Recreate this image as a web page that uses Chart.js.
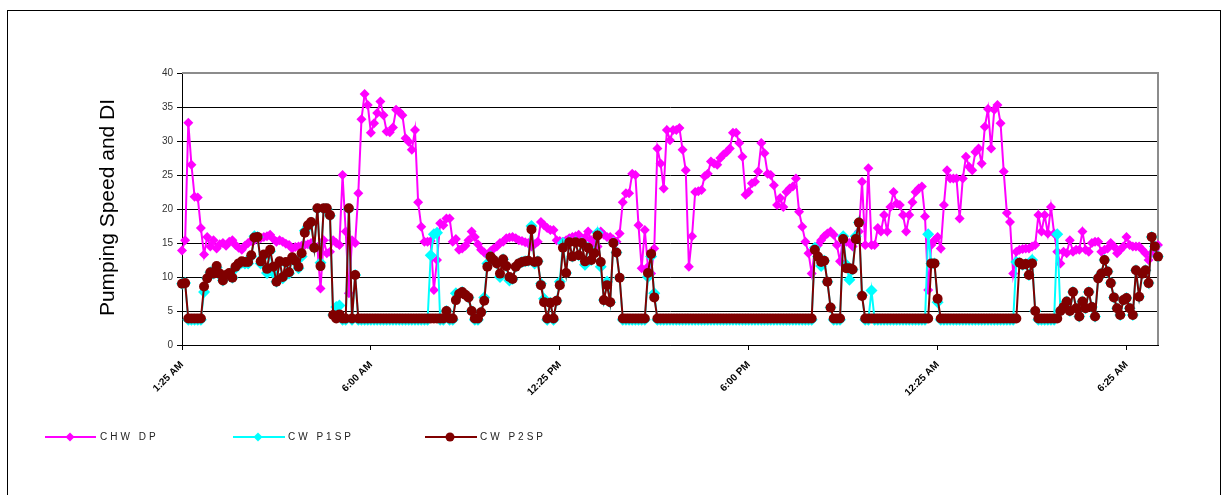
<!DOCTYPE html>
<html>
<head>
<meta charset="utf-8">
<script src="https://cdn.jsdelivr.net/npm/chart.js@4.4.1/dist/chart.umd.min.js"></script>
<style>
html,body{margin:0;padding:0;background:#fff;}
#wrap{width:1222px;height:495px;position:relative;overflow:hidden;}
canvas{display:block;}
</style>
</head>
<body>
<div id="wrap"><canvas id="c" width="1222" height="495"></canvas></div>
<script>
// ---- tick labels (x axis, one every 60 samples) ----
const timeLabels = ['1:25 AM', '6:00 AM', '12:25 PM', '6:00 PM', '12:25 AM', '6:25 AM'];
const seriesNames = ['CHW DP', 'CW P1SP', 'CW P2SP'];
const yAxisTitle = 'Pumping Speed and DI';

// ---- series values (311 samples each) ----
const chwDP = [
13.9, 15.4, 32.7, 26.5, 21.8, 21.7, 17.2, 13.3, 15.9, 14.5,
15.4, 14.2, 14.8, 15.0, 14.6, 15.2, 15.4, 14.7, 14.3, 14.0,
14.6, 15.0, 15.3, 15.4, 15.6, 15.7, 15.9, 16.0, 16.2, 15.6,
15.2, 15.4, 15.2, 14.9, 14.7, 14.2, 14.4, 14.5, 14.6, 14.7,
14.8, 15.0, 14.5, 14.4, 8.3, 15.4, 13.5, 13.7, 15.4, 15.0,
14.7, 25.0, 16.7, 7.6, 15.4, 15.0, 22.3, 33.2, 36.9, 35.3,
31.2, 32.6, 34.1, 35.8, 33.8, 31.4, 31.3, 32.0, 34.6, 34.3,
33.8, 30.4, 29.9, 28.7, 31.6, 21.0, 17.4, 15.2, 15.2, 15.3,
8.1, 12.5, 17.9, 17.6, 18.6, 18.6, 15.2, 15.6, 14.0, 14.2,
14.6, 15.4, 16.7, 15.9, 14.8, 14.0, 13.6, 13.2, 13.8, 14.2,
14.5, 15.0, 15.2, 15.7, 15.8, 15.9, 15.7, 15.4, 15.3, 15.1,
15.0, 14.5, 14.8, 15.2, 18.1, 17.6, 17.2, 16.9, 16.9, 15.4,
15.3, 15.2, 15.4, 15.7, 15.9, 16.0, 16.2, 15.2, 15.8, 16.7,
15.4, 14.9, 14.5, 16.7, 16.2, 15.9, 15.9, 15.5, 15.2, 16.4,
21.0, 22.3, 22.3, 25.2, 25.0, 17.6, 11.3, 16.9, 11.5, 10.5,
14.2, 28.9, 26.7, 23.0, 31.6, 30.1, 31.6, 31.6, 31.9, 28.7,
25.7, 11.5, 16.0, 22.5, 22.6, 22.8, 24.8, 25.2, 27.0, 26.7,
26.5, 27.5, 28.0, 28.4, 28.9, 31.2, 31.2, 29.7, 27.7, 22.1,
22.5, 23.8, 24.0, 25.5, 29.7, 28.2, 25.2, 25.0, 23.5, 20.6,
21.6, 20.3, 22.5, 23.0, 23.3, 24.5, 19.6, 17.4, 15.2, 13.5,
10.5, 14.0, 14.7, 15.4, 16.0, 16.4, 16.7, 16.2, 14.7, 12.3,
15.9, 15.2, 15.0, 14.5, 15.9, 16.7, 24.0, 14.7, 26.0, 14.7,
14.7, 17.2, 16.7, 19.1, 16.7, 20.3, 22.5, 20.8, 20.6, 19.1,
16.7, 19.1, 21.0, 22.5, 23.0, 23.3, 18.9, 8.1, 14.7, 15.4,
15.9, 14.2, 20.6, 25.7, 24.5, 24.5, 24.5, 18.6, 24.5, 27.7,
26.2, 25.7, 28.4, 28.9, 26.7, 32.1, 34.7, 28.9, 34.6, 35.3,
32.6, 25.5, 19.4, 18.1, 10.5, 13.7, 14.0, 14.1, 14.2, 14.2,
14.5, 14.7, 19.1, 16.7, 19.1, 16.4, 20.3, 16.4, 13.7, 12.0,
13.7, 13.5, 15.4, 13.7, 14.0, 14.0, 16.7, 14.0, 13.7, 15.0,
15.2, 15.2, 13.7, 14.0, 14.2, 15.0, 14.5, 13.5, 14.0, 14.5,
15.9, 14.7, 14.5, 14.5, 14.5, 14.0, 13.5, 12.5, 13.5, 14.0, 14.7
];

const cwP1SP = [
9.0, 9.1, 3.7, 3.7, 3.7, 3.7, 3.7, 7.8, 9.8, 10.7,
10.5, 11.4, 10.3, 9.5, 10.1, 10.4, 9.9, 11.3, 11.8, 12.1,
12.0, 12.0, 13.0, 16.0, 15.9, 12.0, 13.0, 10.6, 13.8, 10.6,
9.3, 12.1, 9.8, 12.0, 10.5, 12.7, 12.2, 11.3, 13.0, 16.8,
17.4, 18.0, 14.3, 20.0, 12.1, 20.0, 20.0, 19.0, 4.4, 5.6,
5.8, 3.7, 3.7, 20.0, 3.7, 10.3, 3.7, 3.7, 3.7, 3.7,
3.7, 3.7, 3.7, 3.7, 3.7, 3.7, 3.7, 3.7, 3.7, 3.7,
3.7, 3.7, 3.7, 3.7, 3.7, 3.7, 3.7, 3.7, 3.7, 13.2,
16.3, 16.5, 3.7, 3.7, 5.0, 3.7, 3.7, 7.6, 7.5, 7.8,
7.4, 7.0, 5.0, 3.7, 3.7, 4.8, 7.0, 12.0, 13.0, 12.5,
12.0, 10.0, 12.6, 11.6, 9.5, 9.7, 11.5, 12.0, 12.2, 12.3,
12.4, 17.5, 12.0, 12.3, 9.0, 6.8, 3.7, 6.2, 3.7, 6.5,
9.3, 15.0, 10.6, 15.1, 13.0, 15.1, 13.2, 15.0, 11.8, 14.3,
12.5, 13.5, 16.5, 11.5, 6.6, 9.3, 6.3, 15.0, 13.6, 9.9,
3.7, 3.7, 3.7, 3.7, 3.7, 3.7, 3.7, 3.7, 10.0, 13.0,
7.6, 3.7, 3.7, 3.7, 3.7, 3.7, 3.7, 3.7, 3.7, 3.7,
3.7, 3.7, 3.7, 3.7, 3.7, 3.7, 3.7, 3.7, 3.7, 3.7,
3.7, 3.7, 3.7, 3.7, 3.7, 3.7, 3.7, 3.7, 3.7, 3.7,
3.7, 3.7, 3.7, 3.7, 3.7, 3.7, 3.7, 3.7, 3.7, 3.7,
3.7, 3.7, 3.7, 3.7, 3.7, 3.7, 3.7, 3.7, 3.7, 3.7,
3.7, 14.3, 13.0, 11.6, 12.4, 9.3, 5.5, 3.7, 3.7, 3.7,
16.0, 11.8, 9.6, 11.1, 16.0, 18.0, 7.3, 3.7, 3.7, 8.0,
3.7, 3.7, 3.7, 3.7, 3.7, 3.7, 3.7, 3.7, 3.7, 3.7,
3.7, 3.7, 3.7, 3.7, 3.7, 3.7, 3.7, 16.3, 12.0, 12.0,
6.3, 3.7, 3.7, 3.7, 3.7, 3.7, 3.7, 3.7, 3.7, 3.7,
3.7, 3.7, 3.7, 3.7, 3.7, 3.7, 3.7, 3.7, 3.7, 3.7,
3.7, 3.7, 3.7, 3.7, 3.7, 12.2, 12.1, 11.8, 11.9, 10.3,
12.5, 5.0, 3.7, 3.7, 3.7, 3.7, 3.7, 3.7, 16.3, 5.0,
5.6, 6.4, 5.0, 7.8, 5.4, 4.2, 6.4, 5.4, 7.8, 5.6,
4.2, 9.8, 10.5, 12.5, 10.8, 9.1, 7.0, 5.4, 4.4, 6.6,
6.9, 5.4, 4.4, 11.0, 7.1, 10.5, 11.0, 9.1, 15.9, 14.5, 13.0
];

const cwP2SP = [
9.0, 9.1, 3.9, 3.9, 3.9, 3.9, 3.9, 8.6, 9.8, 10.7,
10.5, 11.6, 10.5, 9.5, 10.3, 10.6, 9.9, 11.5, 12.0, 12.3,
12.2, 12.2, 13.2, 15.8, 15.9, 12.3, 13.3, 11.2, 14.0, 11.5,
9.3, 12.3, 10.0, 12.2, 10.7, 12.9, 12.4, 11.5, 13.5, 16.5,
17.6, 18.1, 14.3, 20.1, 11.6, 20.1, 20.1, 19.1, 4.4, 3.9,
4.5, 3.9, 3.9, 20.1, 3.9, 10.3, 3.9, 3.9, 3.9, 3.9,
3.9, 3.9, 3.9, 3.9, 3.9, 3.9, 3.9, 3.9, 3.9, 3.9,
3.9, 3.9, 3.9, 3.9, 3.9, 3.9, 3.9, 3.9, 3.9, 3.9,
3.9, 3.9, 3.9, 3.9, 5.0, 3.9, 3.9, 6.6, 7.5, 7.8,
7.4, 7.0, 5.0, 3.9, 3.9, 4.8, 6.5, 11.5, 13.0, 12.5,
12.0, 10.5, 12.6, 11.6, 10.0, 9.7, 11.5, 12.0, 12.2, 12.3,
12.4, 17.0, 12.2, 12.3, 8.8, 6.3, 3.9, 6.2, 3.9, 6.5,
8.8, 14.3, 10.6, 15.1, 13.0, 15.1, 13.2, 15.0, 12.3, 14.3,
12.5, 13.5, 16.1, 12.2, 6.6, 8.8, 6.3, 15.0, 13.6, 9.9,
3.9, 3.9, 3.9, 3.9, 3.9, 3.9, 3.9, 3.9, 10.6, 13.4,
7.0, 3.9, 3.9, 3.9, 3.9, 3.9, 3.9, 3.9, 3.9, 3.9,
3.9, 3.9, 3.9, 3.9, 3.9, 3.9, 3.9, 3.9, 3.9, 3.9,
3.9, 3.9, 3.9, 3.9, 3.9, 3.9, 3.9, 3.9, 3.9, 3.9,
3.9, 3.9, 3.9, 3.9, 3.9, 3.9, 3.9, 3.9, 3.9, 3.9,
3.9, 3.9, 3.9, 3.9, 3.9, 3.9, 3.9, 3.9, 3.9, 3.9,
3.9, 14.0, 13.0, 12.2, 12.4, 9.3, 5.5, 3.9, 3.9, 3.9,
15.6, 11.3, 11.3, 11.1, 15.6, 18.0, 7.2, 3.9, 3.9, 3.9,
3.9, 3.9, 3.9, 3.9, 3.9, 3.9, 3.9, 3.9, 3.9, 3.9,
3.9, 3.9, 3.9, 3.9, 3.9, 3.9, 3.9, 3.9, 12.0, 12.0,
6.8, 3.9, 3.9, 3.9, 3.9, 3.9, 3.9, 3.9, 3.9, 3.9,
3.9, 3.9, 3.9, 3.9, 3.9, 3.9, 3.9, 3.9, 3.9, 3.9,
3.9, 3.9, 3.9, 3.9, 3.9, 3.9, 12.1, 11.8, 11.9, 10.3,
12.0, 5.0, 3.9, 3.9, 3.9, 3.9, 3.9, 3.9, 3.9, 5.0,
5.6, 6.4, 5.0, 7.8, 5.4, 4.2, 6.4, 5.4, 7.8, 5.6,
4.2, 9.8, 10.5, 12.5, 10.8, 9.1, 7.0, 5.4, 4.4, 6.6,
6.9, 5.4, 4.4, 11.0, 7.1, 10.5, 11.0, 9.1, 15.9, 14.5, 13.0
];

const toXY = arr => arr.map((v, i) => ({ x: i, y: v }));
const lastIndex = chwDP.length - 1;

const decor = {
  id: 'decor',
  beforeDatasetsDraw(chart) {
    const { ctx, chartArea: a } = chart;
    ctx.save();
    ctx.strokeStyle = '#8c8c8c';
    ctx.lineWidth = 2;
    ctx.beginPath();
    ctx.moveTo(a.left, a.top);
    ctx.lineTo(a.right, a.top);
    ctx.lineTo(a.right, a.bottom);
    ctx.stroke();
    ctx.restore();
  },
  afterDraw(chart) {
    const { ctx } = chart;
    ctx.save();
    // outer frame
    ctx.strokeStyle = '#000';
    ctx.lineWidth = 1;
    ctx.strokeRect(7.5, 10.5, 1213, 495);
    // y axis title
    ctx.save();
    ctx.translate(108, 207.5);
    ctx.rotate(-Math.PI / 2);
    ctx.fillStyle = '#000';
    ctx.font = '21px "Liberation Sans", Arial, sans-serif';
    ctx.textAlign = 'center';
    ctx.textBaseline = 'middle';
    ctx.fillText(yAxisTitle, 0, 0);
    ctx.restore();
    // legend
    const items = [
      { x0: 45, x1: 96, mx: 70, tx: 100, ds: chart.data.datasets[0], shape: 'diamond' },
      { x0: 233, x1: 285, mx: 258, tx: 288, ds: chart.data.datasets[1], shape: 'diamond' },
      { x0: 425, x1: 477, mx: 450, tx: 480, ds: chart.data.datasets[2], shape: 'circle' }
    ];
    const ly = 437;
    items.forEach((it, k) => {
      ctx.strokeStyle = it.ds.borderColor;
      ctx.fillStyle = it.ds.borderColor;
      ctx.lineWidth = 2;
      ctx.beginPath();
      ctx.moveTo(it.x0, ly);
      ctx.lineTo(it.x1, ly);
      ctx.stroke();
      ctx.beginPath();
      if (it.shape === 'diamond') {
        ctx.moveTo(it.mx, ly - 4.5);
        ctx.lineTo(it.mx + 4.5, ly);
        ctx.lineTo(it.mx, ly + 4.5);
        ctx.lineTo(it.mx - 4.5, ly);
        ctx.closePath();
      } else {
        ctx.arc(it.mx, ly, 4.5, 0, Math.PI * 2);
      }
      ctx.fill();
      ctx.fillStyle = '#222';
      ctx.font = '10px "Liberation Sans", Arial, sans-serif';
      try { ctx.letterSpacing = '3px'; } catch (e) {}
      ctx.textAlign = 'left';
      ctx.textBaseline = 'middle';
      ctx.fillText(seriesNames[k], it.tx, ly);
      try { ctx.letterSpacing = '0px'; } catch (e) {}
    });
    ctx.restore();
  }
};

new Chart(document.getElementById('c'), {
  type: 'line',
  data: {
    datasets: [
      { label: seriesNames[0], data: toXY(chwDP), borderColor: '#FF00FF', backgroundColor: '#FF00FF',
        borderWidth: 2, pointStyle: 'rectRot', pointRadius: 5, pointBorderWidth: 0,
        pointBackgroundColor: '#FF00FF', order: 3, clip: false, tension: 0 },
      { label: seriesNames[1], data: toXY(cwP1SP), borderColor: '#00FFFF', backgroundColor: '#00FFFF',
        borderWidth: 2, pointStyle: 'rectRot', pointRadius: 6, pointBorderWidth: 0,
        pointBackgroundColor: '#00FFFF', order: 2, clip: false, tension: 0 },
      { label: seriesNames[2], data: toXY(cwP2SP), borderColor: '#800000', backgroundColor: '#800000',
        borderWidth: 2, pointStyle: 'circle', pointRadius: 5, pointBorderWidth: 0,
        pointBackgroundColor: '#800000', order: 1, clip: false, tension: 0 }
    ]
  },
  options: {
    responsive: false,
    animation: false,
    devicePixelRatio: 1,
    layout: { padding: { top: 73, right: 64, left: 0, bottom: 0 } },
    plugins: { legend: { display: false }, tooltip: { enabled: false } },
    scales: {
      x: {
        type: 'linear', min: 0, max: lastIndex,
        afterFit(s) { s.height = 150; },
        ticks: {
          stepSize: 60, includeBounds: false, autoSkip: false,
          maxRotation: 45, minRotation: 45, padding: 9,
          color: '#000',
          font: { size: 10, weight: 'bold', family: '"Liberation Sans", Arial, sans-serif' },
          callback: (v) => (v % 60 === 0 && timeLabels[v / 60] !== undefined) ? timeLabels[v / 60] : ''
        },
        grid: { drawOnChartArea: false, drawTicks: true, tickLength: 5, color: '#000' },
        border: { color: '#000', width: 1 }
      },
      y: {
        min: 0, max: 40,
        afterFit(s) { s.width = 182; },
        ticks: {
          stepSize: 5, color: '#333', padding: 4,
          font: { size: 10, family: '"Liberation Sans", Arial, sans-serif' }
        },
        grid: {
          color: (c) => (c.tick && c.tick.value === 40) ? '#8c8c8c' : '#000',
          lineWidth: 1, tickLength: 5, tickColor: '#000'
        },
        border: { color: '#000', width: 1 }
      }
    }
  },
  plugins: [decor]
});
</script>
</body>
</html>
